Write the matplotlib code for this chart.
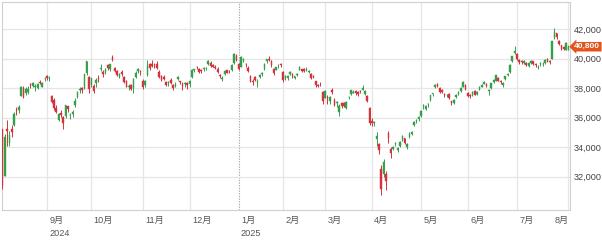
import matplotlib
matplotlib.use("Agg")
import matplotlib.pyplot as plt
import matplotlib.transforms as mtransforms
import numpy as np
import pandas as pd

plt.rcParams['font.family'] = ['Liberation Sans', 'Noto Sans CJK JP', 'DejaVu Sans']

# ---- data: daily candles (trading days) ----
dates = [
 "2024-08-05","2024-08-06","2024-08-07","2024-08-08","2024-08-09","2024-08-13","2024-08-14","2024-08-15","2024-08-16","2024-08-19",
 "2024-08-20","2024-08-21","2024-08-22","2024-08-23","2024-08-26","2024-08-27","2024-08-28","2024-08-29","2024-08-30",
 "2024-09-02","2024-09-03","2024-09-04","2024-09-05","2024-09-06","2024-09-09","2024-09-10","2024-09-11","2024-09-12","2024-09-13",
 "2024-09-17","2024-09-18","2024-09-19","2024-09-20","2024-09-24","2024-09-25","2024-09-26","2024-09-27","2024-09-30",
 "2024-10-01","2024-10-02","2024-10-03","2024-10-04","2024-10-07","2024-10-08","2024-10-09","2024-10-10","2024-10-11","2024-10-15",
 "2024-10-16","2024-10-17","2024-10-18","2024-10-21","2024-10-22","2024-10-23","2024-10-24","2024-10-25","2024-10-28","2024-10-29",
 "2024-10-30","2024-10-31",
 "2024-11-01","2024-11-05","2024-11-06","2024-11-07","2024-11-08","2024-11-11","2024-11-12","2024-11-13","2024-11-14","2024-11-15",
 "2024-11-18","2024-11-19","2024-11-20","2024-11-21","2024-11-22","2024-11-25","2024-11-26","2024-11-27","2024-11-28","2024-11-29",
 "2024-12-02","2024-12-03","2024-12-04","2024-12-05","2024-12-06","2024-12-09","2024-12-10","2024-12-11","2024-12-12","2024-12-13",
 "2024-12-16","2024-12-17","2024-12-18","2024-12-19","2024-12-20","2024-12-23","2024-12-24","2024-12-25","2024-12-26","2024-12-27",
 "2024-12-30",
 "2025-01-06","2025-01-07","2025-01-08","2025-01-09","2025-01-10","2025-01-14","2025-01-15","2025-01-16","2025-01-17","2025-01-20",
 "2025-01-21","2025-01-22","2025-01-23","2025-01-24","2025-01-27","2025-01-28","2025-01-29","2025-01-30","2025-01-31",
 "2025-02-03","2025-02-04","2025-02-05","2025-02-06","2025-02-07","2025-02-10","2025-02-12","2025-02-13","2025-02-14","2025-02-17",
 "2025-02-18","2025-02-19","2025-02-20","2025-02-21","2025-02-25","2025-02-26","2025-02-27","2025-02-28",
 "2025-03-03","2025-03-04","2025-03-05","2025-03-06","2025-03-07","2025-03-10","2025-03-11","2025-03-12","2025-03-13","2025-03-14",
 "2025-03-17","2025-03-18","2025-03-19","2025-03-21","2025-03-24","2025-03-25","2025-03-26","2025-03-27","2025-03-28","2025-03-31",
 "2025-04-01","2025-04-02","2025-04-03","2025-04-04","2025-04-07","2025-04-08","2025-04-09","2025-04-10","2025-04-11","2025-04-14",
 "2025-04-15","2025-04-16","2025-04-17","2025-04-18","2025-04-21","2025-04-22","2025-04-23","2025-04-24","2025-04-25","2025-04-28",
 "2025-04-30",
 "2025-05-01","2025-05-02","2025-05-07","2025-05-08","2025-05-09","2025-05-12","2025-05-13","2025-05-14","2025-05-15","2025-05-16",
 "2025-05-19","2025-05-20","2025-05-21","2025-05-22","2025-05-23","2025-05-26","2025-05-27","2025-05-28","2025-05-29","2025-05-30",
 "2025-06-02","2025-06-03","2025-06-04","2025-06-05","2025-06-06","2025-06-09","2025-06-10","2025-06-11","2025-06-12","2025-06-13",
 "2025-06-16","2025-06-17","2025-06-18","2025-06-19","2025-06-20","2025-06-23","2025-06-24","2025-06-25","2025-06-26","2025-06-27",
 "2025-06-30",
 "2025-07-01","2025-07-02","2025-07-03","2025-07-04","2025-07-07","2025-07-08","2025-07-09","2025-07-10","2025-07-11","2025-07-14",
 "2025-07-15","2025-07-16","2025-07-17","2025-07-18","2025-07-22","2025-07-23","2025-07-24","2025-07-25","2025-07-28","2025-07-29",
 "2025-07-30","2025-07-31","2025-08-01",
]

opens = [
 35249,32077,35249,34313,35251,35500,36500,36540,37483,37999,37634,37744,38227,38115,38103,38039,38413,38107,38587,
 38851,38655,37480,37191,36683,35840,36315,36060,36080,36754,36161,36229,36852,37385,37846,38033,38000,39011,38760,
 38208,38134,38366,38697,39263,39103,39063,39545,39319,40128,39334,39134,38771,39073,38722,38473,38092,38199,38022,38778,39142,39179,
 38452,38223,38880,39655,39600,39552,39614,39112,38830,38735,38429,38359,38555,38185,38171,38644,38471,38267,38299,38375,
 38250,38730,39240,39399,39272,39200,39270,39344,39600,39731,39555,39460,39301,38816,38616,38979,39224,39172,39199,39673,40196,
 39628,39447,39819,39648,39362,38796,38450,38743,38395,38768,38971,39268,39800,39960,39836,39300,39254,39471,39631,
 39100,38694,38678,38983,38962,38678,38917,39240,39281,39298,39207,39104,38951,38805,38450,38193,38280,37750,
 37360,37429,37110,37900,37200,36965,36400,36957,36986,36640,37384,37600,37700,37789,37740,37792,37889,37623,37477,36650,
 35802,35661,34537,34237,32500,32200,32200,34950,33900,33900,34200,33800,34100,34500,34600,34000,34700,34900,35500,35800,35900,
 36100,36800,36600,36900,37200,37600,38100,38300,38000,37900,37600,37500,37600,37100,37000,37400,37600,37800,38100,38200,
 37700,37500,37500,37800,37600,37900,38100,38300,38300,37800,38000,38400,38500,38700,38500,38200,38600,38900,39100,39800,40400,
 40300,39900,39800,39700,39700,39500,39700,39800,39600,39400,39600,39600,39700,40000,39800,40000,41400,41700,41200,40900,
 40800,40600,40600,
]

highs = [
 35250,34911,35849,35090,35480,36350,36690,36830,38140,38120,38040,38120,38370,38400,38260,38340,38550,38420,38770,
 38900,38790,37560,37300,36830,36300,36500,36100,36880,36800,36300,36500,37300,37800,38050,38050,38950,39830,38850,
 38700,38300,38700,38900,39600,39200,39350,39600,39650,40250,39450,39200,39050,39200,38800,38550,38250,38300,38650,39150,39350,39250,
 38600,38550,39900,39700,39880,39700,39850,39200,38900,38900,38500,38500,38650,38300,38400,38850,38500,38400,38400,38400,
 38550,39300,39300,39500,39350,39300,39400,39450,39900,39800,39650,39550,39400,38950,38800,39200,39250,39250,39600,40400,40300,
 39700,40200,40050,39700,39500,38900,38600,38800,38600,38950,39100,39700,40000,40150,39900,39350,39450,39600,39700,
 39150,38900,38900,39150,39000,38850,39000,39500,39300,39350,39450,39250,39000,38900,38500,38300,38400,37800,
 37900,37500,37450,38000,37300,37100,36900,37050,37050,37100,37450,37900,37900,37850,37800,37900,38200,37850,37500,36700,
 36000,35800,35000,34300,32800,33200,32400,35100,34000,34100,34350,34000,34450,34800,34650,34300,35000,35100,35750,35900,36100,
 36500,36900,36850,37000,37550,37700,38250,38350,38050,37950,37650,37600,37650,37150,37250,37600,37800,38050,38450,38250,
 37750,37600,37800,37900,37800,38150,38300,38500,38350,37950,38350,38600,38900,38750,38550,38400,38800,39050,39600,40200,40850,
 40350,40000,39900,39900,39750,39750,39900,39850,39700,39550,39750,39750,39950,40050,39900,41200,42065,41750,41250,40950,
 40850,41100,40900,
]

lows = [
 31156,32077,34100,34101,34690,35400,36150,36340,37450,37350,37500,37600,38000,38050,37800,37950,38250,38050,38450,
 38580,38500,37000,36550,36300,35780,36050,35250,35970,36400,35900,36050,36750,37300,37650,37700,37950,38900,37700,
 38100,37650,38050,38400,39150,38750,38950,39250,39150,39800,39100,38800,38700,38850,38350,38050,37900,37850,37650,38700,39050,38900,
 37950,38100,38800,39250,39400,39350,39300,38700,38450,38550,38150,38150,38250,37900,38050,38550,38250,37850,38100,37950,
 38100,38700,39100,39300,39000,39050,39150,39250,39550,39450,39400,39300,39050,38700,38450,38900,39000,39050,39150,39650,39800,
 39250,39400,39750,39450,39100,38400,38200,38500,38050,38700,38850,39200,39700,39800,39400,38900,39200,39350,39450,
 38400,38550,38550,38900,38700,38600,38800,39200,39100,39100,39150,39000,38600,38650,38100,38050,38150,36950,
 37300,36950,36950,37600,36800,36750,36100,36650,36700,36600,37250,37550,37650,37550,37450,37700,37850,37500,37050,35500,
 35450,35450,34100,33550,30793,32000,31100,34300,33300,33800,34050,33650,34000,34450,34200,33900,34650,34800,35450,35650,35800,
 36050,36600,36500,36700,37150,37450,38000,38050,37700,37650,37400,37400,37250,36850,36950,37350,37550,37750,38050,37900,
 37400,37300,37450,37500,37550,37850,38050,38250,38100,37550,37950,38350,38450,38450,38300,38100,38550,38850,39050,39750,40300,
 39900,39650,39650,39650,39500,39450,39650,39550,39450,39300,39500,39500,39650,39750,39650,39950,41350,41350,40900,40550,
 40550,40550,40550,
]

closes = [
 31458,34675,35089,34831,35025,36232,36442,36726,38062,37388,37963,37951,38211,38364,38110,38288,38371,38362,38647,
 38700,38686,37047,36657,36391,36215,36159,35619,36833,36581,36203,36380,37155,37723,37940,37870,38925,39829,37919,
 38651,37808,38552,38635,39332,38937,39277,39380,39605,39910,39180,38911,38981,38954,38411,38104,38143,37913,38605,39027,39277,39081,
 38053,38474,39480,39381,39500,39533,39376,38721,38535,38642,38220,38414,38352,38026,38283,38780,38442,38134,38349,38208,
 38513,39248,39276,39395,39091,39160,39367,39372,39849,39470,39457,39364,39081,38813,38701,39161,39036,39130,39568,40281,39894,
 39307,40083,39981,39605,39190,38474,38444,38572,38451,38902,39027,39646,39958,39931,39565,39016,39414,39513,39572,
 38520,38798,38831,39066,38787,38801,38963,39461,39149,39174,39270,39164,38678,38776,38237,38142,38256,37155,
 37785,37331,37418,37704,36887,37028,36793,36819,36790,37053,37396,37845,37751,37677,37608,37780,38027,37799,37120,35617,
 35624,35725,34736,33781,31136,33012,31714,34609,33586,33982,34268,33920,34377,34730,34280,34220,34868,35039,35705,35840,36045,
 36452,36831,36780,36928,37503,37644,38183,38128,37755,37754,37498,37529,37299,36986,37160,37531,37724,38002,38432,37965,
 37471,37446,37747,37554,37741,38089,38211,38421,38173,37834,38311,38536,38885,38488,38403,38354,38790,38942,39584,40150,40487,
 39986,39762,39785,39810,39587,39688,39821,39646,39570,39459,39678,39663,39901,39819,39774,41171,41826,41456,40998,40674,
 40654,41069,40800,
]

month_labels = ["9月", "10月", "11月", "12月", "1月", "2月", "3月", "4月", "5月", "6月", "7月", "8月"]
year_labels = {"9月": "2024", "1月": "2025"}
y_ticks = [32000, 34000, 36000, 38000, 40000, 42000]
last_price_label = "40,800"

# ---- figure ----
fig = plt.figure(figsize=(6.02, 2.40), dpi=100)
ax = fig.add_axes([1.5/602, 30/240, 568/602, 208/240])

o = np.array(opens, float); h = np.array(highs, float)
l = np.array(lows, float); c = np.array(closes, float)
x = np.arange(len(closes))
up = c > o
GREEN = "#34a04c"
RED = "#d4323c"
cols = np.where(up, GREEN, RED)

ax.vlines(x, l, h, colors=cols, linewidth=0.7, zorder=3)
body_bottom = np.minimum(o, c)
body_h = np.maximum(np.abs(c - o), 40)
ax.bar(x, body_h, bottom=body_bottom, width=0.65, color=cols, edgecolor=cols,
       linewidth=0.3, zorder=4)

ax.set_xlim(-0.4, len(x) - 0.5)
ax.set_ylim(29746, 43828)

# month boundaries from dates
d = pd.to_datetime(pd.Series(dates))
ym = d.dt.year * 100 + d.dt.month
month_starts = list(np.where(ym.values[1:] != ym.values[:-1])[0] + 1)

for idx, lab in zip(month_starts, month_labels):
    if lab == "1月":
        ax.axvline(idx, color="#a8a8a8", lw=0.8, ls=(0, (1.2, 1.2)), zorder=1)
    else:
        ax.axvline(idx, color="#e6e6e6", lw=0.9, zorder=1)

for yv in y_ticks:
    ax.axhline(yv, color="#e6e6e6", lw=0.9, zorder=1)

for s in ax.spines.values():
    s.set_color("#d0d0d0")
    s.set_linewidth(0.8)

ax.set_xticks([])
ax.yaxis.tick_right()
ax.set_yticks(y_ticks)
ax.set_yticklabels([f"{v:,}" for v in y_ticks])
ax.tick_params(axis="y", length=0, pad=3, labelsize=6.6, labelcolor="#444444")

trans = mtransforms.blended_transform_factory(ax.transData, ax.transAxes)
for idx, lab in zip(month_starts, month_labels):
    if idx >= len(x) - 1:
        ax.text(0.998, -0.05, lab, transform=ax.transAxes, ha="right", va="center",
                fontsize=6.6, color="#555555")
    else:
        ax.text(idx + 1.0, -0.05, lab, transform=trans, ha="left", va="center",
                fontsize=6.6, color="#555555", clip_on=False)
    if lab in year_labels:
        ax.text(idx + 1.0, -0.113, year_labels[lab], transform=trans, ha="left",
                va="center", fontsize=6.6, color="#555555", clip_on=False)

# last price tag
ytrans = mtransforms.blended_transform_factory(ax.transAxes, ax.transData)
ax.text(1.0085, closes[-1], last_price_label, transform=ytrans, ha="left", va="center",
        fontsize=6.0, color="white", fontweight="bold", clip_on=False, zorder=10,
        bbox=dict(boxstyle="larrow,pad=0.15", facecolor="#e2531d", edgecolor="none"))

fig.savefig("out.png", dpi=100)
